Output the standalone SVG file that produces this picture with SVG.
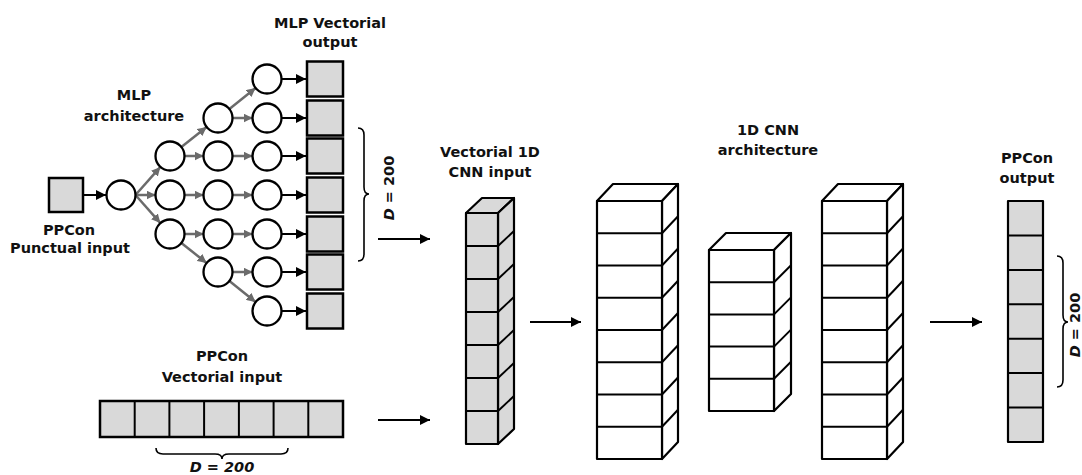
<svg xmlns="http://www.w3.org/2000/svg" width="1082" height="475" viewBox="0 0 1082 475">
<defs>
<marker id="ab" viewBox="0 0 10 10" refX="10" refY="5" markerWidth="5" markerHeight="5" orient="auto" markerUnits="strokeWidth"><path d="M0,0 L10,5 L0,10 Z" fill="#000"/></marker>
<marker id="ag" viewBox="0 0 10 10" refX="10" refY="5" markerWidth="3.6" markerHeight="3.6" orient="auto" markerUnits="strokeWidth"><path d="M0,0 L10,5 L0,10 Z" fill="#6b6b6b"/></marker>
<style>
text{font-family:"DejaVu Sans","Liberation Sans",sans-serif;font-weight:bold;font-size:14.5px;fill:#111;text-anchor:middle}
.sq{fill:#d9d9d9;stroke:#000;stroke-width:2.5}
.nd{fill:#fff;stroke:#000;stroke-width:2.3}
.ba{stroke:#000;stroke-width:2;fill:none;marker-end:url(#ab)}
.ga{stroke:#6b6b6b;stroke-width:2.5;fill:none;marker-end:url(#ag)}
.br{fill:none;stroke:#000;stroke-width:1.6}
.g{fill:#d9d9d9;stroke:#000;stroke-width:2.2;stroke-linejoin:round}
.w{fill:#fff;stroke:#000;stroke-width:2.2;stroke-linejoin:round}
.ln{stroke:#000;stroke-width:2}
</style>
</defs>

<g id="labels">
<text x="330" y="28">MLP Vectorial</text>
<text x="330" y="47">output</text>
<text x="134" y="100">MLP</text>
<text x="134" y="121">architecture</text>
<text x="69" y="235">PPCon</text>
<text x="70" y="253">Punctual input</text>
<text x="222" y="361">PPCon</text>
<text x="222" y="382">Vectorial input</text>
<text x="490" y="157">Vectorial 1D</text>
<text x="490" y="177">CNN input</text>
<text x="768" y="135">1D CNN</text>
<text x="768" y="155">architecture</text>
<text x="1027" y="163">PPCon</text>
<text x="1027" y="183">output</text>
<text x="222" y="472" font-style="italic">D = 200</text>
<text transform="translate(394,188) rotate(-90)"><tspan font-style="italic">D</tspan> = 200</text>
<text transform="translate(1080,325) rotate(-90)"><tspan font-style="italic">D</tspan> = 200</text>
</g>

<g id="connectors">
<line class="ba" x1="83" y1="195" x2="106" y2="195"/>
<line class="ga" x1="135.5" y1="195" x2="155.5" y2="195"/>
<line class="ga" x1="135.5" y1="195" x2="160.4" y2="166.9"/>
<line class="ga" x1="135.5" y1="195" x2="160.4" y2="223.1"/>
<line class="ga" x1="184.5" y1="156" x2="203.5" y2="156"/>
<line class="ga" x1="184.5" y1="195" x2="203.5" y2="195"/>
<line class="ga" x1="184.5" y1="234" x2="203.5" y2="234"/>
<line class="ga" x1="181.4" y1="147" x2="206.6" y2="127"/>
<line class="ga" x1="181.4" y1="243" x2="206.6" y2="263"/>
<line class="ga" x1="232.5" y1="118" x2="252.5" y2="118"/>
<line class="ga" x1="232.5" y1="156" x2="252.5" y2="156"/>
<line class="ga" x1="232.5" y1="195" x2="252.5" y2="195"/>
<line class="ga" x1="232.5" y1="234" x2="252.5" y2="234"/>
<line class="ga" x1="232.5" y1="272" x2="252.5" y2="272"/>
<line class="ga" x1="229.4" y1="109" x2="255.6" y2="88"/>
<line class="ga" x1="229.4" y1="281" x2="255.6" y2="302"/>
<line class="ba" x1="281.5" y1="79" x2="306" y2="79"/>
<line class="ba" x1="281.5" y1="118" x2="306" y2="118"/>
<line class="ba" x1="281.5" y1="156" x2="306" y2="156"/>
<line class="ba" x1="281.5" y1="195" x2="306" y2="195"/>
<line class="ba" x1="281.5" y1="234" x2="306" y2="234"/>
<line class="ba" x1="281.5" y1="272" x2="306" y2="272"/>
<line class="ba" x1="281.5" y1="311" x2="306" y2="311"/>
<line class="ba" x1="378" y1="239" x2="430" y2="239"/>
<line class="ba" x1="378" y1="420" x2="430" y2="420"/>
<line class="ba" x1="530" y1="322" x2="581" y2="322"/>
<line class="ba" x1="930" y1="322" x2="982" y2="322"/>
<path class="br" d="M358,128 Q364,128 364,135 L364,187 Q364,194 369,194 Q364,194 364,201 L364,254 Q364,261 358,261"/>
<path class="br" d="M1057,256 Q1063,256 1063,263 L1063,315 Q1063,322 1068,322 Q1063,322 1063,329 L1063,380 Q1063,387 1057,387"/>
<path class="br" d="M156,448 Q156,454 163,454 L215,454 Q222,454 222,459 Q222,454 229,454 L281,454 Q288,454 288,448"/>
</g>

<g id="punctual-input"><rect class="sq" x="49" y="178" width="34" height="34"/></g>

<g id="mlp">
<circle class="nd" cx="121" cy="195" r="14.5"/>
<circle class="nd" cx="170" cy="156" r="14.5"/>
<circle class="nd" cx="170" cy="195" r="14.5"/>
<circle class="nd" cx="170" cy="234" r="14.5"/>
<circle class="nd" cx="218" cy="118" r="14.5"/>
<circle class="nd" cx="218" cy="156" r="14.5"/>
<circle class="nd" cx="218" cy="195" r="14.5"/>
<circle class="nd" cx="218" cy="234" r="14.5"/>
<circle class="nd" cx="218" cy="272" r="14.5"/>
<circle class="nd" cx="267" cy="79" r="14.5"/>
<circle class="nd" cx="267" cy="118" r="14.5"/>
<circle class="nd" cx="267" cy="156" r="14.5"/>
<circle class="nd" cx="267" cy="195" r="14.5"/>
<circle class="nd" cx="267" cy="234" r="14.5"/>
<circle class="nd" cx="267" cy="272" r="14.5"/>
<circle class="nd" cx="267" cy="311" r="14.5"/>
</g>

<g id="mlp-output">
<rect class="sq" x="307" y="61.5" width="36" height="35"/>
<rect class="sq" x="307" y="100.5" width="36" height="35"/>
<rect class="sq" x="307" y="138.5" width="36" height="35"/>
<rect class="sq" x="307" y="177.5" width="36" height="35"/>
<rect class="sq" x="307" y="216.5" width="36" height="35"/>
<rect class="sq" x="307" y="254.5" width="36" height="35"/>
<rect class="sq" x="307" y="293.5" width="36" height="35"/>
</g>

<g id="vectorial-input">
<rect class="sq" x="100" y="401" width="243" height="36"/>
<line class="ln" x1="134.7" y1="401" x2="134.7" y2="437"/>
<line class="ln" x1="169.4" y1="401" x2="169.4" y2="437"/>
<line class="ln" x1="204.1" y1="401" x2="204.1" y2="437"/>
<line class="ln" x1="238.9" y1="401" x2="238.9" y2="437"/>
<line class="ln" x1="273.6" y1="401" x2="273.6" y2="437"/>
<line class="ln" x1="308.3" y1="401" x2="308.3" y2="437"/>
</g>

<g id="cnn-input">
<polygon class="g" points="466,213 482,198 514,198 498,213"/>
<polygon class="g" points="498,213 514,198 514,429 498,444"/>
<rect class="g" x="466" y="213" width="32" height="231"/>
<g class="ln">
<line x1="466" y1="246" x2="498" y2="246"/><line x1="498" y1="246" x2="514" y2="231"/>
<line x1="466" y1="279" x2="498" y2="279"/><line x1="498" y1="279" x2="514" y2="264"/>
<line x1="466" y1="312" x2="498" y2="312"/><line x1="498" y1="312" x2="514" y2="297"/>
<line x1="466" y1="345" x2="498" y2="345"/><line x1="498" y1="345" x2="514" y2="330"/>
<line x1="466" y1="378" x2="498" y2="378"/><line x1="498" y1="378" x2="514" y2="363"/>
<line x1="466" y1="411" x2="498" y2="411"/><line x1="498" y1="411" x2="514" y2="396"/>
</g>
</g>

<g id="cnn-block-1">
<polygon class="w" points="597,201 613,184 678,184 662,201"/>
<polygon class="w" points="662,201 678,184 678,442 662,459"/>
<rect class="w" x="597" y="201" width="65" height="258" stroke-width="2.6"/>
<g class="ln">
<line x1="597" y1="233.3" x2="662" y2="233.3"/><line x1="662" y1="233.3" x2="678" y2="216.3"/>
<line x1="597" y1="265.5" x2="662" y2="265.5"/><line x1="662" y1="265.5" x2="678" y2="248.5"/>
<line x1="597" y1="297.8" x2="662" y2="297.8"/><line x1="662" y1="297.8" x2="678" y2="280.8"/>
<line x1="597" y1="330" x2="662" y2="330"/><line x1="662" y1="330" x2="678" y2="313"/>
<line x1="597" y1="362.3" x2="662" y2="362.3"/><line x1="662" y1="362.3" x2="678" y2="345.3"/>
<line x1="597" y1="394.5" x2="662" y2="394.5"/><line x1="662" y1="394.5" x2="678" y2="377.5"/>
<line x1="597" y1="426.8" x2="662" y2="426.8"/><line x1="662" y1="426.8" x2="678" y2="409.8"/>
</g>
</g>

<g id="cnn-block-2">
<polygon class="w" points="709,250 726,233 791,233 774,250"/>
<polygon class="w" points="774,250 791,233 791,394 774,411"/>
<rect class="w" x="709" y="250" width="65" height="161" stroke-width="2.6"/>
<g class="ln">
<line x1="709" y1="282.2" x2="774" y2="282.2"/><line x1="774" y1="282.2" x2="791" y2="265.2"/>
<line x1="709" y1="314.4" x2="774" y2="314.4"/><line x1="774" y1="314.4" x2="791" y2="297.4"/>
<line x1="709" y1="346.6" x2="774" y2="346.6"/><line x1="774" y1="346.6" x2="791" y2="329.6"/>
<line x1="709" y1="378.8" x2="774" y2="378.8"/><line x1="774" y1="378.8" x2="791" y2="361.8"/>
</g>
</g>

<g id="cnn-block-3">
<polygon class="w" points="822,201 838,184 903,184 887,201"/>
<polygon class="w" points="887,201 903,184 903,442 887,459"/>
<rect class="w" x="822" y="201" width="65" height="258" stroke-width="2.6"/>
<g class="ln">
<line x1="822" y1="233.3" x2="887" y2="233.3"/><line x1="887" y1="233.3" x2="903" y2="216.3"/>
<line x1="822" y1="265.5" x2="887" y2="265.5"/><line x1="887" y1="265.5" x2="903" y2="248.5"/>
<line x1="822" y1="297.8" x2="887" y2="297.8"/><line x1="887" y1="297.8" x2="903" y2="280.8"/>
<line x1="822" y1="330" x2="887" y2="330"/><line x1="887" y1="330" x2="903" y2="313"/>
<line x1="822" y1="362.3" x2="887" y2="362.3"/><line x1="887" y1="362.3" x2="903" y2="345.3"/>
<line x1="822" y1="394.5" x2="887" y2="394.5"/><line x1="887" y1="394.5" x2="903" y2="377.5"/>
<line x1="822" y1="426.8" x2="887" y2="426.8"/><line x1="887" y1="426.8" x2="903" y2="409.8"/>
</g>
</g>

<g id="ppcon-output">
<rect class="g" x="1008" y="201" width="35" height="241"/>
<g class="ln">
<line x1="1008" y1="235.4" x2="1043" y2="235.4"/>
<line x1="1008" y1="269.9" x2="1043" y2="269.9"/>
<line x1="1008" y1="304.3" x2="1043" y2="304.3"/>
<line x1="1008" y1="338.7" x2="1043" y2="338.7"/>
<line x1="1008" y1="373.1" x2="1043" y2="373.1"/>
<line x1="1008" y1="407.6" x2="1043" y2="407.6"/>
</g>
</g>
</svg>
